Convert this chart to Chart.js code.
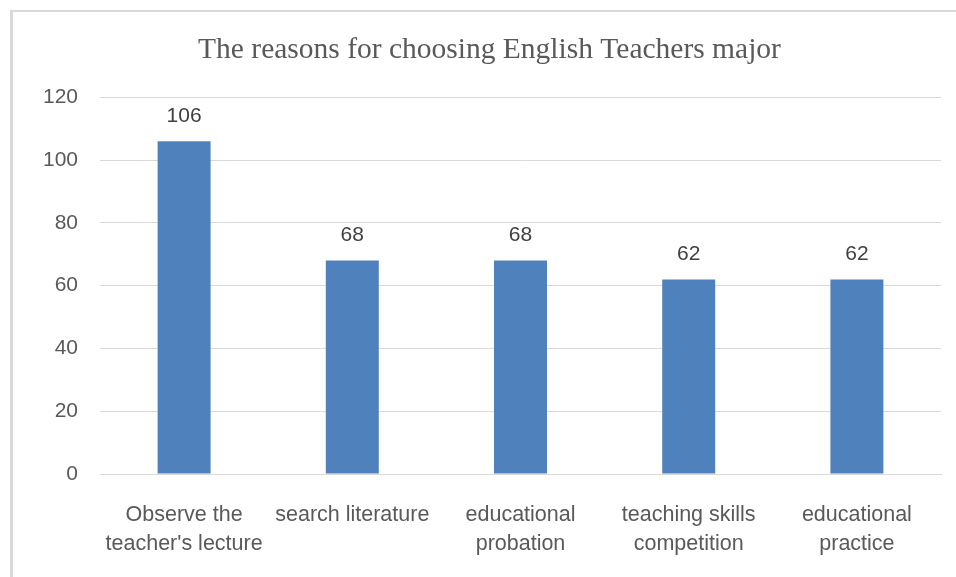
<!DOCTYPE html>
<html lang="en">
<head>
  <meta charset="UTF-8">
  <title>The reasons for choosing English Teachers major</title>
  <script src="https://cdn.jsdelivr.net/npm/chart.js"></script>
  <style>
    body {
      margin: 0;
      background: #fff;
    }

    #marco {
      position: absolute;
      left: 10px;
      top: 10px;
      width: 946px;
      height: 567px;
      border-left: 3px solid #d9d9d9;
      border-top: 2px solid #d9d9d9;
      box-sizing: border-box;
    }

    #contenedor {
      position: absolute;
      left: 0;
      top: 0;
      width: 956px;
      height: 577px;
    }
  </style>
</head>
<body>

<div id="marco"></div>
<div id="contenedor">
  <canvas id="grafico"></canvas>
</div>

<script>
  var categorias = [
    ['Observe the', "teacher's lecture"],
    ['search literature'],
    ['educational', 'probation'],
    ['teaching skills', 'competition'],
    ['educational', 'practice']
  ];
  var valores = [106, 68, 68, 62, 62];
  var ticksY = [0, 20, 40, 60, 80, 100, 120];

  var gris = '#595959';
  var fuente = "'Liberation Sans', Arial, sans-serif";

  // etiquetas de valor encima de cada barra
  var etiquetasValor = {
    id: 'etiquetasValor',
    afterDatasetsDraw: function (chart) {
      var ctx = chart.ctx;
      var meta = chart.getDatasetMeta(0);
      ctx.save();
      ctx.font = '21px ' + fuente;
      ctx.fillStyle = '#404040';
      ctx.textAlign = 'center';
      ctx.textBaseline = 'middle';
      meta.data.forEach(function (barra, i) {
        ctx.fillText(valores[i], barra.x, barra.y - 25);
      });
      ctx.restore();
    }
  };

  var ctx = document.getElementById('grafico').getContext('2d');

  var grafico = new Chart(ctx, {
    type: 'bar',
    data: {
      labels: categorias,
      datasets: [{
        data: valores,
        backgroundColor: '#4f81bd',
        categoryPercentage: 1,
        barPercentage: 0.315
      }]
    },
    options: {
      responsive: true,
      maintainAspectRatio: false,
      animation: false,
      layout: {
        padding: { left: 38, right: 15, top: 33, bottom: 12 }
      },
      plugins: {
        legend: { display: false },
        tooltip: { enabled: false },
        title: {
          display: true,
          text: 'The reasons for choosing English Teachers major',
          color: gris,
          font: { family: "'Liberation Serif', 'Times New Roman', serif", size: 29.5, weight: 'normal' },
          padding: { top: 0, bottom: 29 }
        }
      },
      scales: {
        x: {
          grid: { display: false },
          border: { color: '#d9d9d9', width: 1 },
          ticks: {
            color: gris,
            font: { family: fuente, size: 21.5, lineHeight: 1.35 },
            padding: 19,
            maxRotation: 0,
            autoSkip: false
          },
          afterFit: function (scale) { scale.height = 91; }
        },
        y: {
          min: 0,
          max: 120,
          afterBuildTicks: function (scale) {
            scale.ticks = ticksY.map(function (v) { return { value: v }; });
          },
          grid: { color: '#d9d9d9', drawTicks: false },
          border: { display: false },
          ticks: {
            color: gris,
            font: { family: fuente, size: 21 },
            padding: 22
          },
          afterFit: function (scale) { scale.width = 62; }
        }
      }
    },
    plugins: [etiquetasValor]
  });
</script>

</body>
</html>
